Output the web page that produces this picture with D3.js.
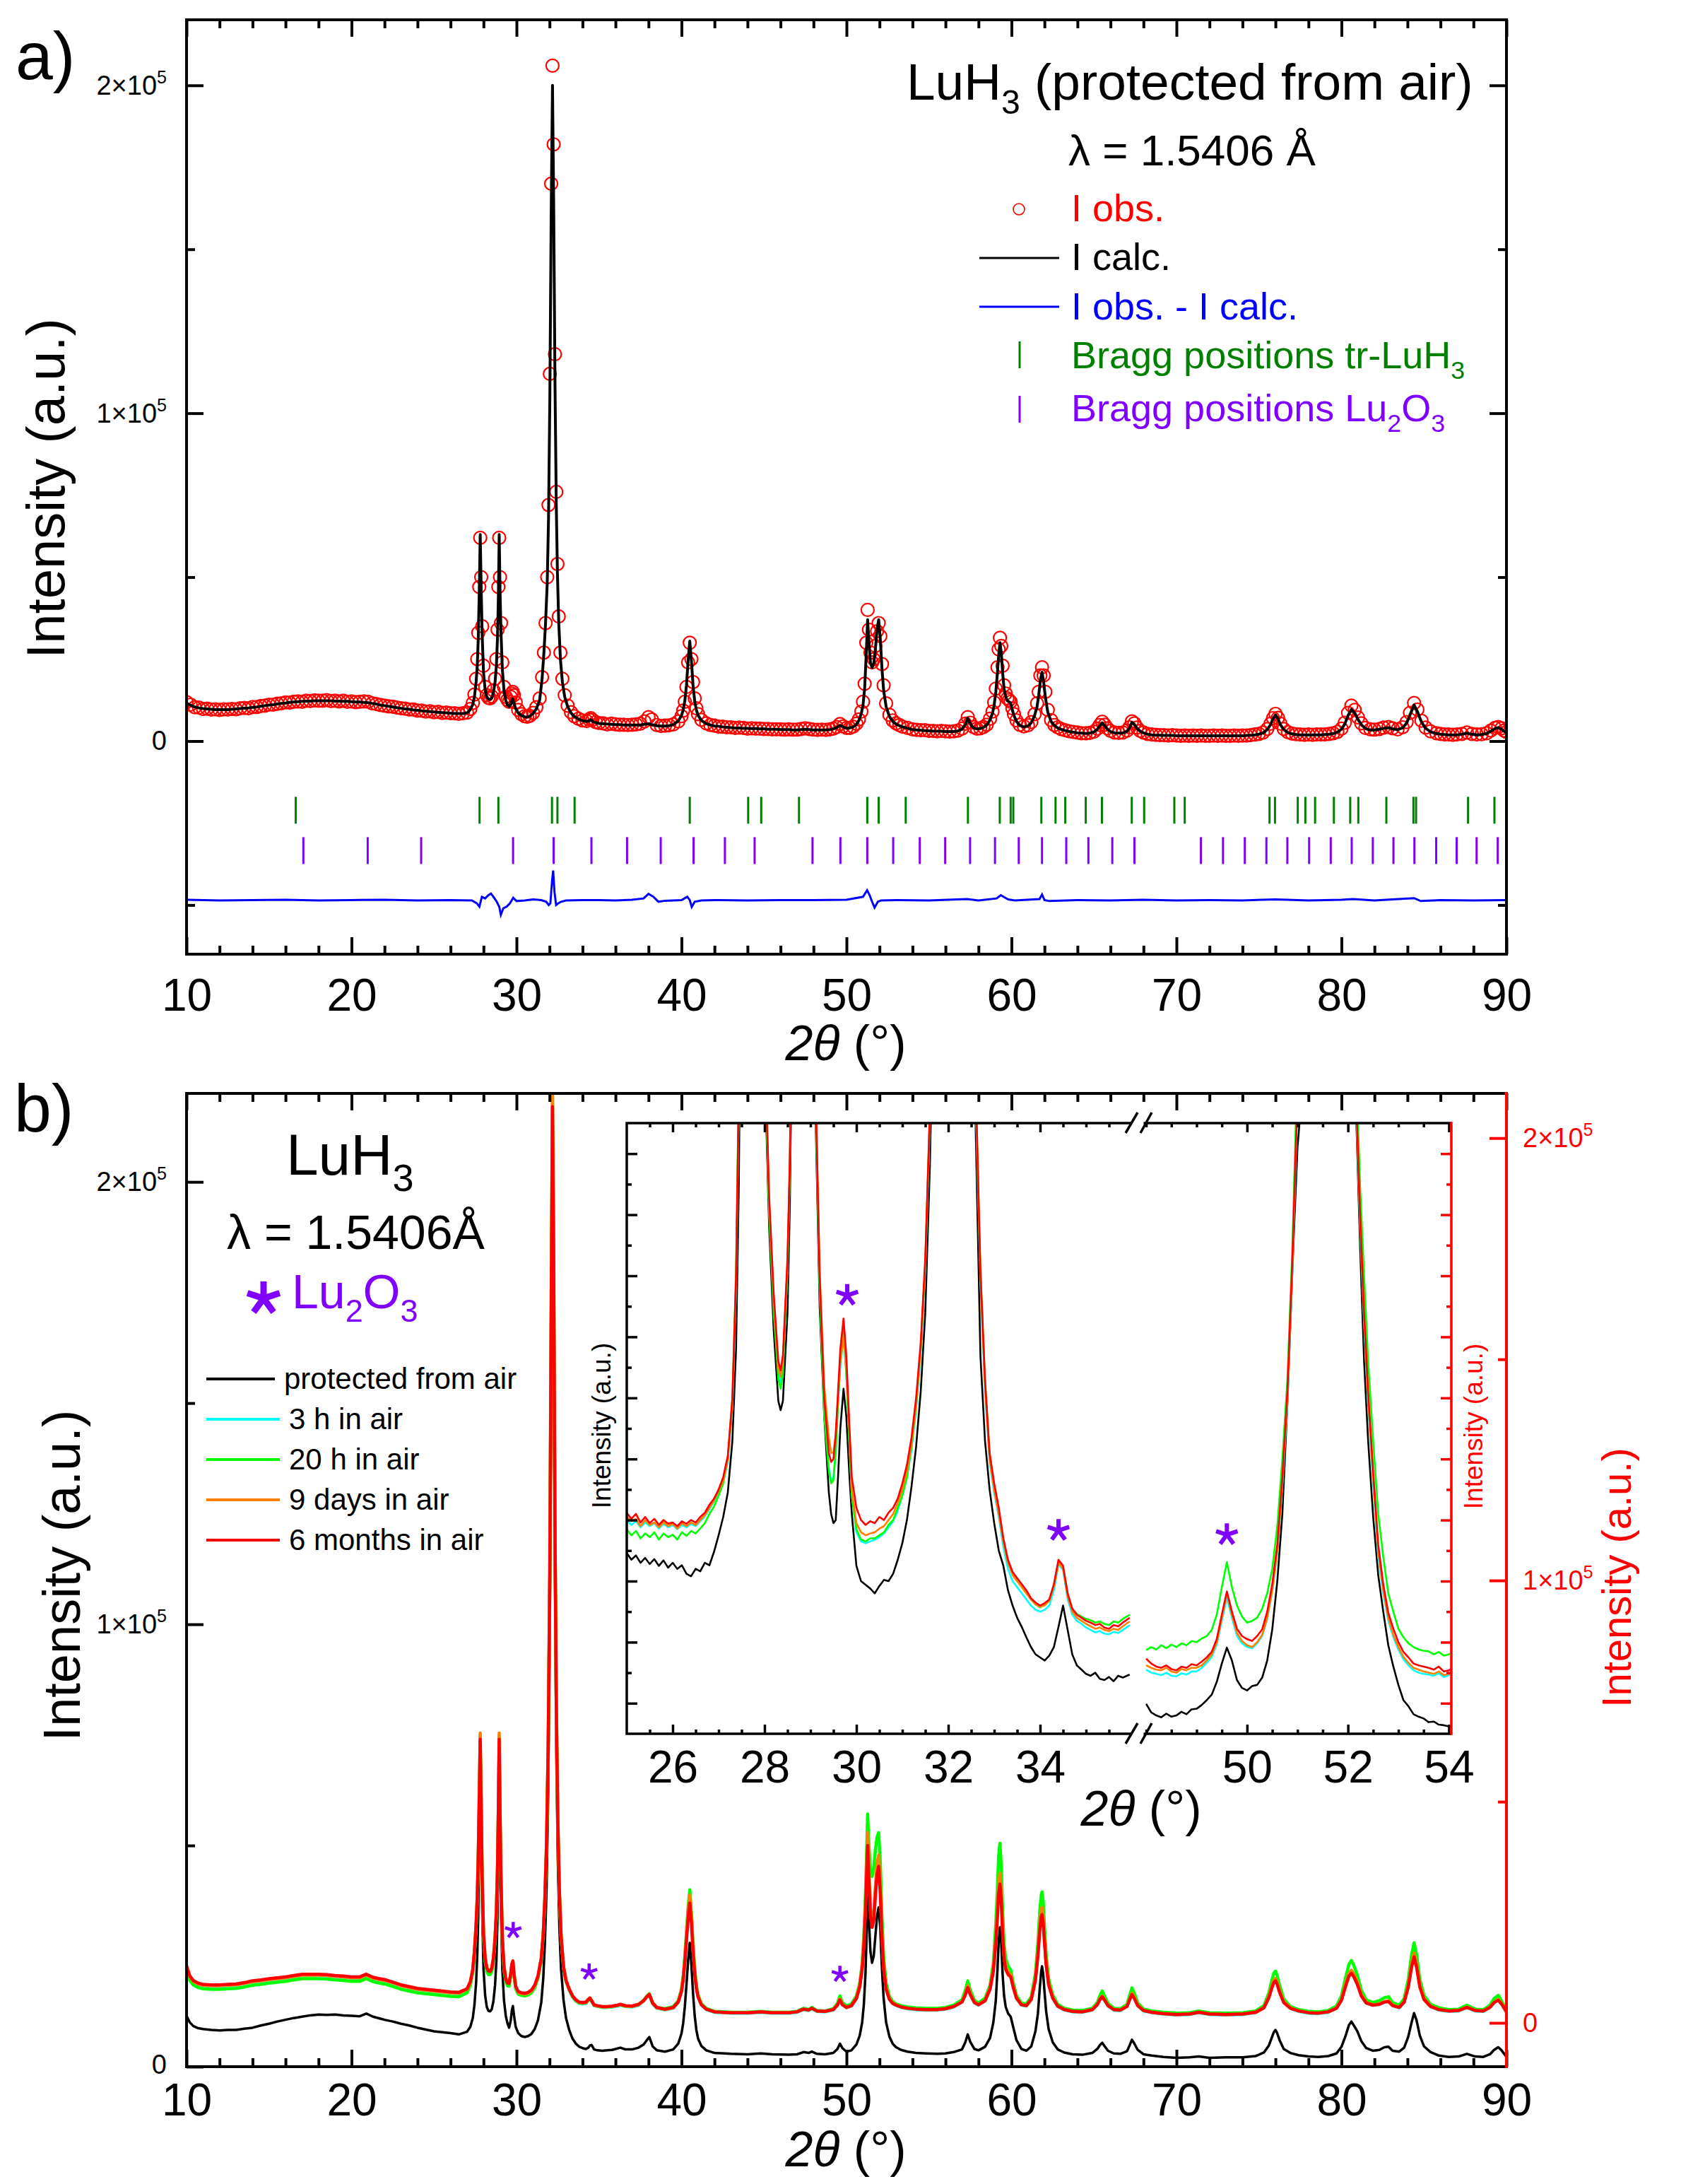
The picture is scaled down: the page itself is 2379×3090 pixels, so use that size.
<!DOCTYPE html>
<html>
<head>
<meta charset="utf-8">
<script src="https://cdn.jsdelivr.net/npm/d3@7"></script>
<style>
  body { margin: 0; background: #fff; }
  text { font-family: "Liberation Sans", Arial, sans-serif; }
</style>
</head>
<body>
<svg></svg>
<script>
// ---------- panel a: Rietveld fit (intensities in units of 10^3 counts) ----------
const thetaA = [
  10,10.25,10.5,10.75,11,11.25,11.5,11.75,12,12.25,
  12.5,12.75,13,13.25,13.5,13.75,14,14.25,14.5,14.75,
  15,15.25,15.5,15.75,16,16.25,16.5,16.75,17,17.25,
  17.5,17.75,18,18.25,18.5,18.75,19,19.25,19.5,19.75,
  20,20.25,20.5,20.75,21,21.25,21.5,21.75,22,22.25,
  22.5,22.75,23,23.25,23.5,23.75,24,24.25,24.5,24.75,
  25,25.25,25.5,25.75,26,26.25,26.5,26.75,27,27.2,
  27.35,27.45,27.55,27.62,27.68,27.74,27.8,27.86,27.92,28,
  28.1,28.2,28.3,28.4,28.5,28.6,28.7,28.78,28.85,28.9,
  28.95,29,29.06,29.14,29.24,29.35,29.45,29.55,29.65,29.72,
  29.77,29.84,29.95,30.1,30.3,30.5,30.65,30.8,31,31.2,
  31.4,31.55,31.66,31.76,31.86,31.94,32.02,32.1,32.18,32.25,
  32.33,32.41,32.48,32.56,32.66,32.78,32.92,33.1,33.3,33.5,
  33.75,34,34.25,34.4,34.5,34.6,34.8,35,35.25,35.5,
  35.75,36,36.25,36.5,36.75,37,37.25,37.5,37.75,38,
  38.2,38.5,38.75,39,39.25,39.5,39.8,40,40.1,40.2,
  40.3,40.4,40.5,40.6,40.7,40.8,40.9,41,41.2,41.5,
  41.75,42,42.25,42.5,42.75,43,43.25,43.5,43.75,44,
  44.25,44.5,44.75,45,45.25,45.5,45.75,46,46.25,46.5,
  46.75,47,47.25,47.5,47.75,48,48.25,48.5,48.75,49,
  49.2,49.4,49.6,49.8,50,50.2,50.4,50.6,50.75,50.9,
  51,51.1,51.2,51.28,51.36,51.45,51.55,51.65,51.75,51.85,
  51.95,52.05,52.15,52.25,52.4,52.6,52.8,53,53.2,53.4,
  53.7,54,54.25,54.5,54.75,55,55.25,55.5,55.75,56,
  56.25,56.5,56.75,57,57.2,57.35,57.5,57.7,57.9,58.1,
  58.3,58.5,58.7,58.85,58.95,59.05,59.15,59.22,59.3,59.38,
  59.46,59.55,59.65,59.75,59.85,59.95,60.05,60.15,60.3,60.5,
  60.75,61,61.2,61.4,61.55,61.65,61.75,61.85,61.95,62.05,
  62.2,62.4,62.6,62.8,63,63.25,63.5,63.75,64,64.25,
  64.5,64.75,65,65.2,65.35,65.5,65.65,65.8,66,66.25,
  66.5,66.75,67,67.15,67.3,67.45,67.6,67.8,68,68.25,
  68.5,68.75,69,69.25,69.5,69.75,70,70.25,70.5,70.75,
  71,71.25,71.5,71.75,72,72.25,72.5,72.75,73,73.25,
  73.5,73.75,74,74.25,74.5,74.75,75,75.25,75.5,75.7,
  75.85,76,76.15,76.3,76.5,76.75,77,77.25,77.5,77.75,
  78,78.25,78.5,78.75,79,79.25,79.5,79.75,80,80.2,
  80.4,80.6,80.8,81,81.2,81.45,81.75,82,82.3,82.55,
  82.85,83.1,83.4,83.7,83.95,84.15,84.4,84.6,84.85,85.1,
  85.4,85.75,86,86.25,86.5,86.75,87,87.3,87.6,87.9,
  88.2,88.5,88.8,89.05,89.3,89.5,89.7,89.85,90
];
const obsA = [
  11.9,11.1,10.3,10.2,9.8,9.9,9.6,9.7,9.5,9.7,
  9.6,9.8,9.7,10,10.1,10,10.4,10.4,10.7,10.8,
  11.1,11.1,11.4,11.5,11.8,11.7,12,12.1,12,12.3,
  12.2,12.4,12.3,12.3,12.5,12.2,12.3,12.1,12.3,12,
  12.1,11.9,12,12.1,12,11.5,11.3,11,10.8,10.6,
  10.5,10.2,10,9.9,9.6,9.6,9.3,9.3,9,9.1,
  8.8,8.9,8.6,8.7,8.5,8.5,8.3,8.5,8.7,9.8,
  11.6,14.2,19,25,33,47,62,50,35,23,
  16.5,14,13.2,13,13.6,15.5,19,25,34,47,
  62,50,36,24,16.5,13.5,12.6,12,13.5,14.5,
  15,14,11.8,9.5,8.2,7.6,7.4,7.7,8.6,10.3,
  13,19.5,27,36,50,72,112,170,206,182,
  118,76,54,38,27,19,14,10.8,8.8,7.6,
  6.8,6.3,6.1,6.6,7,6.5,5.8,5.5,5.4,5.1,
  5.3,5.1,5,5,4.9,5,5.1,5.3,6,7.3,
  6.6,4.9,4.6,4.7,4.8,5.1,6,7.6,9.3,12,
  16.5,24,30,25,18,13,10,8.2,6.5,5.4,
  4.9,4.7,4.4,4.4,4.2,4.2,4,4.1,4,3.8,
  3.9,3.8,3.8,3.7,3.7,3.6,3.6,3.6,3.5,3.6,
  3.5,3.5,3.7,3.9,3.7,3.5,3.4,3.5,3.4,3.6,
  3.8,4.3,5.2,4.5,4,4,4.4,5.3,6.6,9,
  12,17.5,30,40,34,27,24,25,29,33.5,
  36,32,23.5,17,11.5,8,6.3,5.4,4.9,4.4,
  4,3.6,3.4,3.3,3.3,3.1,3.1,3,3.1,3,
  2.9,3,3.2,3.8,5.3,7.3,5.6,4.3,3.8,3.9,
  4.3,5,6.8,9,11.8,16,22.5,28,31.5,29,
  23,17,14.5,13,12.5,12,10,8.2,6.3,5,
  4.5,4.8,5.8,8.2,11.5,15,20,22.5,20,15,
  9.5,6.4,4.9,4.2,3.7,3.3,3,2.8,2.6,2.4,
  2.4,2.5,2.9,3.8,4.9,5.9,5,3.9,3.1,2.6,
  2.5,2.6,3.2,4.2,6,5.4,4.1,3.1,2.6,2.2,
  2,1.9,1.8,1.8,1.7,1.8,1.7,1.6,1.7,1.6,
  1.7,1.6,1.7,1.6,1.6,1.7,1.6,1.7,1.6,1.6,
  1.7,1.6,1.7,1.7,1.8,2,2.2,2.6,3.7,5.3,
  7,8.3,7.1,5.3,3.7,2.7,2.3,2.1,2,1.9,
  2,1.9,2,2,2,2.2,2.4,2.8,3.8,5.6,
  8.6,10.8,9.5,7.2,5.4,4,3.6,3.5,3.7,4.1,
  4.3,3.9,3.6,4.2,5.8,8.6,11.6,9.6,6.2,4.1,
  3,2.4,2.2,2,2,1.9,2,2.2,2.6,2.2,
  2,2.1,2.4,3.2,4,4.3,3.9,3.2,2.8
];
const calcA = [
  11.6,10.9,10.4,10.1,9.9,9.8,9.7,9.6,9.6,9.6,
  9.6,9.7,9.8,9.9,10,10.1,10.3,10.4,10.6,10.8,
  11,11.1,11.3,11.5,11.6,11.8,11.9,12,12.1,12.2,
  12.2,12.3,12.3,12.3,12.3,12.3,12.2,12.2,12.1,12.1,
  12,11.9,11.9,11.8,11.7,11.5,11.3,11,10.8,10.6,
  10.4,10.2,10,9.8,9.7,9.5,9.4,9.2,9.1,9,
  8.9,8.8,8.7,8.6,8.5,8.4,8.4,8.4,8.6,9.6,
  11.2,13.5,18,23,31,45,63,46,32,21,
  15.5,13.5,12.8,12.7,13.2,14.8,18,23,32,44,
  63,46,33,22,15.5,12.3,11,10.5,11.2,12.4,
  12.8,11.6,9.9,8.6,7.8,7.4,7.3,7.6,8.4,9.8,
  12.5,19,27,36,48,68,105,160,200,165,
  110,72,51,36,25,18,13.5,10.5,8.6,7.5,
  6.7,6.2,6,6.2,6.5,6,5.6,5.4,5.3,5.2,
  5.1,5,5,4.9,4.9,4.9,4.9,4.9,5.1,5.3,
  5,4.7,4.6,4.6,4.7,5,6.1,7.8,9.5,12.2,
  17,24.5,30.5,24.5,17,12.2,9.5,7.9,6.3,5.3,
  4.9,4.6,4.5,4.3,4.2,4.1,4,4,3.9,3.9,
  3.8,3.8,3.7,3.7,3.6,3.6,3.6,3.5,3.5,3.5,
  3.4,3.4,3.5,3.6,3.5,3.4,3.4,3.4,3.4,3.5,
  3.7,4.1,4.8,4.3,3.9,4,4.3,5.1,6.3,8.5,
  11,16,27,37,30,24,22.4,23.5,28,34,
  37,31,22,15.5,10.5,7.5,6,5.2,4.7,4.3,
  3.9,3.5,3.4,3.3,3.2,3.1,3,3,3,2.9,
  2.9,2.9,3.1,3.6,5,7,5.2,4,3.7,3.8,
  4.2,4.9,6.5,8.5,11,15,21,26,30,27,
  21,16,13.5,12.3,12,11.5,9.5,7.8,6,4.8,
  4.3,4.6,5.6,7.8,10.5,14,18.5,21,18,13.5,
  8.8,6,4.7,4,3.6,3.2,2.9,2.7,2.5,2.4,
  2.3,2.4,2.8,3.6,4.6,5.6,4.7,3.7,2.9,2.5,
  2.4,2.5,3,4,5.7,5,3.9,3,2.5,2.1,
  1.9,1.8,1.8,1.7,1.7,1.7,1.6,1.6,1.6,1.6,
  1.6,1.6,1.6,1.6,1.6,1.6,1.6,1.6,1.6,1.6,
  1.6,1.6,1.6,1.7,1.8,1.9,2.1,2.5,3.5,5,
  6.8,8,6.8,5,3.5,2.6,2.2,2,1.9,1.9,
  1.9,1.9,1.9,1.9,2,2.1,2.3,2.7,3.6,5.2,
  7.8,9.6,8.6,6.6,5,3.8,3.4,3.4,3.6,3.9,
  4.1,3.7,3.5,4,5.5,8,11,9,5.8,3.9,
  2.8,2.3,2.1,2,1.9,1.9,1.9,2.1,2.4,2.1,
  1.9,2,2.3,3,3.8,4.1,3.6,3,2.6
];
// difference curve, drawn with its own offset below zero
const thetaDiff = [
  10,12,14,16,18,20,22,24,26,27.3,
  27.6,27.75,27.9,28.1,28.3,28.45,28.6,28.8,28.95,29.05,
  29.2,29.4,29.6,29.8,30,30.5,31,31.5,31.8,31.95,
  32.05,32.15,32.22,32.3,32.4,32.5,32.7,33,34,35,
  36,37,37.7,38,38.3,38.6,39,40,40.35,40.5,
  40.62,40.8,41.2,42,44,46,48,50,51,51.25,
  51.4,51.55,51.7,51.9,52.1,53,55,57.3,58,59.1,
  59.35,59.55,59.8,60.2,61.7,61.85,62,62.3,64,66,
  68,70,72,74,76,78,80,80.7,82,84.4,
  84.8,86,88,90
];
const diffA = [
  -48.4,-48.6,-48.5,-48.4,-48.6,-48.5,-48.4,-48.6,-48.5,-48.6,
  -49.5,-50.5,-47.5,-48,-47,-46.5,-47.5,-49,-50.5,-53,
  -51,-50.5,-49.5,-47.8,-48.8,-48.6,-48.3,-48.5,-49,-50,
  -49.5,-43,-39.5,-46,-50,-49.6,-49,-48.6,-48.5,-48.5,
  -48.6,-48.4,-48,-46.6,-47.5,-49,-48.7,-48.5,-47.5,-48.5,
  -50.6,-49,-48.6,-48.5,-48.6,-48.5,-48.5,-48.4,-47.5,-45.5,
  -47,-49,-50.8,-49,-48.6,-48.5,-48.6,-48.2,-48.6,-48,
  -47,-47.6,-48.3,-48.6,-48.2,-46.8,-48.5,-48.8,-48.5,-48.6,
  -48.4,-48.6,-48.5,-48.6,-48.3,-48.6,-48.4,-48.2,-48.6,-47.9,
  -48.8,-48.5,-48.6,-48.5
];
const braggLuH3 = [16.62,27.76,28.9,32.15,32.48,33.52,40.5,44.04,44.83,47.12,
  51.26,51.95,53.59,57.36,59.29,59.95,60.11,61.81,62.67,63.26,64.5,65.48,67.29,68.04,
  69.87,70.5,75.64,75.97,77.35,77.81,78.4,79.54,80.53,81.02,82.72,84.36,84.52,87.67,89.27];
const braggLu2O3 = [17.08,20.98,24.22,29.79,32.25,34.54,36.7,38.74,40.73,42.63,44.43,47.94,
  49.63,51.26,52.83,54.44,55.98,57.49,59.0,60.44,61.85,63.32,64.66,66.11,67.45,71.48,72.82,
  74.14,75.45,76.72,78.04,79.35,80.62,81.9,83.15,84.42,85.74,86.98,88.19,89.47];

// ---------- panel b: ageing in air ----------
const thetaB = [
  10,10.2,10.4,10.7,11,11.5,12,12.5,13,13.5,
  14,14.5,15,15.5,16,16.5,17,17.5,18,18.5,
  19,19.5,20,20.5,20.9,21.3,21.7,22,22.5,23,
  23.5,24,24.5,25,25.5,26,26.5,27,27.2,27.35,
  27.45,27.55,27.62,27.68,27.74,27.8,27.86,27.92,28,28.1,
  28.2,28.3,28.4,28.5,28.6,28.7,28.78,28.85,28.9,28.95,
  29,29.06,29.14,29.24,29.35,29.45,29.55,29.65,29.72,29.78,
  29.85,29.95,30.1,30.3,30.5,30.7,30.9,31.1,31.3,31.5,
  31.62,31.72,31.82,31.92,32.02,32.1,32.18,32.25,32.33,32.41,
  32.5,32.6,32.7,32.85,33,33.2,33.4,33.6,33.8,34,
  34.2,34.35,34.45,34.55,34.7,34.9,35.2,35.5,35.8,36.1,
  36.3,36.6,37,37.4,37.7,37.9,38.05,38.25,38.5,39,
  39.5,39.8,40,40.1,40.2,40.3,40.4,40.5,40.6,40.7,
  40.8,40.9,41,41.2,41.5,42,43,44,44.8,45.5,
  46.5,47,47.4,47.7,47.9,48.2,48.7,49.2,49.45,49.6,
  49.75,50,50.3,50.6,50.8,50.95,51.05,51.15,51.22,51.28,
  51.36,51.45,51.55,51.65,51.75,51.85,51.95,52.05,52.15,52.25,
  52.4,52.6,52.8,53,53.3,53.7,54.2,54.8,55.5,56,
  56.5,57,57.2,57.35,57.5,57.75,58,58.4,58.7,58.9,
  59.05,59.15,59.22,59.3,59.38,59.46,59.55,59.65,59.8,59.95,
  60.1,60.3,60.6,60.9,61.2,61.45,61.6,61.72,61.8,61.85,
  61.92,62,62.1,62.25,62.5,62.8,63.2,63.7,64.3,64.9,
  65.2,65.38,65.5,65.65,65.85,66.2,66.6,67,67.18,67.3,
  67.45,67.65,68,68.5,69.2,70,70.8,71.35,72,73,
  74,74.8,75.3,75.6,75.8,75.9,76,76.1,76.25,76.5,
  76.9,77.4,78,78.6,79.2,79.7,80,80.25,80.45,80.6,
  80.75,80.95,81.2,81.5,81.9,82.3,82.6,82.85,83.1,83.5,
  83.8,84.05,84.25,84.4,84.55,84.75,85,85.4,85.9,86.5,
  87.1,87.6,88.1,88.6,89,89.25,89.5,89.7,90
];
// left (black) axis
const protectedB = [
  11.5,10,9.2,8.7,8.5,8.3,8.2,8.3,8.3,8.6,
  8.8,9.3,9.7,10.2,10.6,11,11.3,11.6,11.8,11.7,
  11.8,11.6,11.5,11.4,12,11.3,10.9,10.6,10.2,9.7,
  9.3,8.8,8.4,8,7.8,7.6,7.3,7.9,9,11,
  14,19,25,34,50,70,52,35,22,16,
  13.5,12.6,12.5,13,14.8,18.5,24,34,48,69,
  50,35,22,15,11.5,9.8,8.8,10.5,12.8,13.7,
  11.5,9,7.6,6.9,6.7,6.9,7.4,8.5,10.5,14.5,
  20,28,40,62,100,155,206,170,112,72,
  47,31,22,15,11,8.2,6.3,5.2,4.5,4.2,
  4,4.3,4.8,4.9,3.9,3.7,3.6,3.7,3.8,4.1,
  4.3,3.9,3.9,4.3,5,6,6.7,4.6,3.7,3.4,
  3.9,5.2,7.5,9.8,13.5,18.5,24,28,23,16.5,
  11.5,8.3,6.4,4.7,3.7,3.1,2.9,2.8,3,2.8,
  2.7,2.8,3.3,3.1,3.4,2.9,2.8,3.1,4,5.2,
  4.2,3.4,3.7,5,7,10,14,21,30,40,
  33,26,23.5,25,29.5,34,36,31,22,15.5,
  10,6.8,5.2,4.4,3.8,3.4,3.1,3,2.9,3,
  3.3,3.9,5.5,7.3,5.6,4,3.7,4.5,6.5,10,
  15,22,28,31.5,28,21,16,13.5,12,11.3,
  9,6,4,3.6,4.6,8,12,18,21.5,22.7,
  21,17,12.5,8.5,5.5,3.9,3.2,2.8,2.7,3.1,
  4,5,5.4,4.6,3.6,3,2.9,3.5,5,6.1,
  5.2,3.8,2.8,2.5,2.2,2,2.1,2.3,2,2.1,
  2.1,2.4,3.2,4.8,6.8,7.8,8.3,7.6,6,4,
  3.1,2.6,2.3,2.2,2.4,3,4.5,7,9.4,10.2,
  9.3,8.1,5.8,4.2,3.6,3.8,4.4,4.5,3.6,3.4,
  4.3,6.8,10,12.1,10.5,7,4.6,3.3,2.5,2.2,
  2.3,2.9,2.3,2.2,2.8,3.8,4.4,3.7,2.2
];
// right (red) axis
const air3hB = [
  12.5,10.3,9.3,8.7,8.4,8.3,8.3,8.4,8.5,8.8,
  9.2,9.4,9.7,9.9,10.1,10.4,10.7,10.7,10.7,10.6,
  10.4,10.3,10.1,10.1,10.7,10,9.7,9.5,8.9,8.3,
  7.9,7.5,7.3,7.1,6.9,6.7,6.6,7.5,9,11.8,
  15.9,22,28.2,37.4,50.8,64.8,48.6,32.3,20.1,14.4,
  12.2,11.5,11.4,12.1,14.4,19,25.2,35.4,48.7,64.8,
  47.6,32.3,19,12.4,9.8,8.9,8.8,11,13.1,13.7,
  10.8,7.9,6.7,6.4,6.3,6.5,7,8.1,10.3,14.4,
  20.1,28.3,40.6,63,104,161,211,175,114,73,
  46.8,29.5,19.6,12.5,9.4,7.3,5.8,4.9,4.4,4.3,
  4.4,5.1,5.5,4.9,3.9,3.7,3.5,3.5,3.6,3.8,
  4,3.7,3.6,4,4.9,5.9,6.4,4.3,3.3,2.9,
  3.3,4.7,7.2,9.9,14.2,19.5,24.9,28.6,23.8,16.8,
  11.5,8,6,4.1,3,2.4,2.2,2.2,2.4,2.2,
  2.2,2.4,3,2.8,3.2,2.6,2.5,2.9,4,5.3,
  4.1,3.4,3.8,5.6,8.4,12.7,18.1,26.6,35.1,42.5,
  34,25.5,22.9,24.5,30.2,35.6,37.5,30.8,20.1,12.7,
  7.8,5.4,4.4,4,3.5,3.2,3,2.9,2.9,3.1,
  3.6,4.7,6.4,8.3,6.5,4.6,4,5,7.9,12.2,
  19.1,25.5,30.8,33.4,29.3,21.3,15.2,12.5,11.3,10.8,
  8.3,5.6,4,3.8,5.3,10,15.8,22.3,25.2,25.9,
  23.9,19,13.7,8.9,5.7,3.7,2.9,2.5,2.4,2.9,
  4.1,5.5,6,5.1,3.8,2.9,2.8,3.7,5.5,6.6,
  5.6,3.9,2.7,2.3,2,1.8,1.9,2.3,1.9,1.8,
  1.9,2.3,3.4,5.9,8.4,9.5,9.9,9.1,7.1,4.7,
  3.3,2.6,2.2,2.1,2.4,3.3,5.2,8.7,11.1,11.8,
  10.9,9.2,6.3,4.5,4,4.2,4.7,4.9,3.9,3.4,
  4.7,8.4,13.2,15.6,13.2,8.4,5.4,3.7,2.9,2.6,
  2.7,3.5,2.7,2.6,3.5,4.6,5.2,4.3,2.4
];
const air20hB = [
  11.8,9.6,8.6,8,7.7,7.6,7.6,7.7,7.8,8.1,
  8.5,8.7,9,9.2,9.4,9.7,10,10,10,9.9,
  9.7,9.6,9.4,9.4,10,9.3,9,8.8,8.2,7.6,
  7.2,6.8,6.6,6.4,6.2,6,5.9,6.8,8.5,11.5,
  15.5,21.5,27.5,36,48.5,62,46.5,31,19.3,13.8,
  11.6,10.9,10.9,11.6,13.9,18.4,24.2,34,46.5,62,
  45.5,31,18.3,11.9,9.3,8.4,8.3,10.5,12.7,13.3,
  10.5,7.7,6.5,6.2,6.1,6.3,6.8,7.9,10.1,14.1,
  19.6,27.6,39.5,61,100,155,204,170,110,71,
  45.5,28.8,19.4,12.4,9.4,7.4,5.9,5,4.5,4.4,
  4.5,5.1,5.6,5,4,3.8,3.6,3.6,3.7,3.9,
  4.1,3.8,3.7,4.2,5.1,6.1,6.6,4.6,3.5,3.2,
  3.7,5,7.7,10.5,15,20.6,26.2,30.1,25.1,17.9,
  12.3,8.6,6.4,4.4,3.3,2.6,2.4,2.4,2.6,2.4,
  2.4,2.6,3.3,3,3.5,2.8,2.7,3.2,4.4,6.1,
  4.6,3.8,4.3,6.1,8.9,13.5,19.5,29,38.5,47.2,
  40,34.5,33.1,35,39,42,43,36,24,15,
  9,6,4.8,4.3,3.9,3.6,3.4,3.3,3.3,3.5,
  4,5.2,7.3,9.5,7.4,5.1,4.5,5.6,8.5,13.5,
  22.5,30.5,37.5,40.6,35.5,25.5,18,14.5,12.8,12,
  9.2,6.2,4.5,4.3,5.9,11.2,18,25.5,28.8,29.6,
  27.5,21.8,15.5,10,6.3,4.2,3.3,2.9,2.8,3.3,
  4.6,6.3,7.2,6,4.4,3.3,3.2,4.2,6.4,7.9,
  6.7,4.5,3.1,2.7,2.4,2.2,2.3,2.7,2.3,2.2,
  2.3,2.7,3.9,6.8,9.9,11.2,11.7,10.7,8.4,5.4,
  3.7,3,2.6,2.5,2.8,3.8,6.1,10.2,13.2,14.1,
  13,10.9,7.4,5.2,4.6,5,5.7,5.9,4.6,4,
  5.5,9.8,15.4,18.1,15.4,9.8,6.2,4.2,3.4,3,
  3.1,4,3.1,3,4,5.5,6.2,5,2.8
];
const air9dB = [
  12.6,10.4,9.4,8.8,8.5,8.4,8.4,8.5,8.6,8.9,
  9.3,9.5,9.8,10,10.2,10.5,10.8,10.8,10.8,10.7,
  10.5,10.4,10.2,10.2,10.8,10.1,9.8,9.6,9,8.4,
  8,7.6,7.4,7.2,7,6.8,6.7,7.6,9.2,12,
  16.2,22.4,28.6,38,51.5,65.5,49.3,32.8,20.4,14.7,
  12.5,11.8,11.8,12.5,14.8,19.4,25.6,35.9,49.3,65.5,
  48.2,32.8,19.4,12.8,10.2,9.4,9.2,11.3,13.3,13.9,
  11,8.2,6.9,6.6,6.5,6.7,7.2,8.3,10.5,14.6,
  20.3,28.6,41,63.8,105,163,213,177,115,74,
  47.3,29.8,19.9,12.7,9.6,7.5,6,5.1,4.6,4.5,
  4.6,5.3,5.6,5,4,3.8,3.6,3.6,3.7,3.9,
  4.1,3.8,3.7,4.1,5,6,6.5,4.4,3.4,3,
  3.4,4.8,7.3,10,14.3,19.7,25.1,28.9,24,17,
  11.6,8.1,6.1,4.2,3.1,2.5,2.3,2.3,2.5,2.3,
  2.3,2.5,3.1,2.9,3.3,2.7,2.6,3,4.1,5.4,
  4.2,3.5,3.9,5.7,8.5,12.8,18.3,26.9,35.5,43,
  34.4,25.8,23.1,24.7,30.6,36,37.9,31.1,20.3,12.8,
  7.9,5.5,4.5,4.1,3.6,3.3,3.1,3,3,3.2,
  3.7,4.8,6.5,8.4,6.6,4.7,4.1,5.1,8,12.3,
  19.3,25.8,31.2,33.8,29.6,21.5,15.4,12.7,11.4,10.9,
  8.4,5.7,4.1,3.9,5.4,10.1,16,22.5,25.4,26.1,
  24.1,19.2,13.8,9,5.8,3.8,3,2.6,2.5,3,
  4.2,5.6,6.1,5.2,3.9,3,2.9,3.8,5.6,6.7,
  5.7,4,2.8,2.4,2.1,1.9,2,2.4,2,1.9,
  2,2.4,3.5,6,8.5,9.6,10,9.2,7.2,4.8,
  3.4,2.7,2.3,2.2,2.5,3.4,5.3,8.8,11.2,11.9,
  11,9.3,6.4,4.6,4.1,4.3,4.8,5,4,3.5,
  4.8,8.5,13.3,15.8,13.3,8.5,5.5,3.8,3,2.7,
  2.8,3.6,2.8,2.7,3.6,4.7,5.3,4.4,2.5
];
const air6mB = [
  12.9,10.6,9.6,9,8.7,8.6,8.6,8.7,8.8,9.1,
  9.5,9.7,10,10.2,10.4,10.7,11,11,11,10.9,
  10.7,10.6,10.4,10.4,11,10.3,10,9.8,9.2,8.6,
  8.2,7.8,7.6,7.4,7.2,7,6.9,7.7,9.3,12.1,
  16.1,22.1,28.1,37.1,50.1,64.1,48.1,32.1,20.1,14.6,
  12.4,11.7,11.6,12.3,14.6,19.1,25.1,35.1,48.1,64.1,
  47.1,32.1,19.1,12.6,9.9,9,8.9,11.1,13.3,14,
  11.1,8.3,7.1,6.8,6.7,6.9,7.4,8.5,10.6,14.6,
  20.1,28.1,40.1,62.1,102.1,158.1,207.1,172.1,112.1,72.1,
  46.1,29.1,19.6,12.6,9.6,7.6,6.1,5.2,4.7,4.6,
  4.7,5.3,5.6,5,4.1,3.9,3.7,3.7,3.8,4,
  4.2,3.9,3.8,4.2,5,5.9,6.4,4.5,3.5,3.1,
  3.5,4.7,7.1,9.6,13.6,18.6,23.6,27.1,22.6,16.1,
  11.1,7.8,5.9,4.1,3.1,2.5,2.3,2.3,2.5,2.3,
  2.3,2.5,3.1,2.9,3.3,2.7,2.6,3,4,5.2,
  4.1,3.5,3.9,5.5,8.1,12.1,17.1,25.1,33.1,40.1,
  32.1,24.1,21.6,23.1,28.6,33.6,35.4,29.1,19.1,12.1,
  7.6,5.3,4.4,4,3.6,3.3,3.1,3,3,3.2,
  3.7,4.7,6.3,8,6.4,4.6,4.1,5,7.6,11.6,
  18.1,24.1,29.1,31.4,27.6,20.1,14.6,12.1,10.9,10.4,
  8.1,5.6,4.1,3.9,5.3,9.6,15.1,21.1,23.9,24.5,
  22.6,18.1,13.1,8.6,5.6,3.8,3,2.6,2.5,3,
  4.1,5.4,5.9,5.1,3.9,3,2.9,3.7,5.4,6.4,
  5.5,3.9,2.8,2.4,2.1,1.9,2,2.4,2,1.9,
  2,2.4,3.4,5.7,8.1,9.1,9.5,8.7,6.9,4.6,
  3.3,2.7,2.3,2.2,2.5,3.3,5.1,8.3,10.6,11.2,
  10.4,8.8,6.1,4.5,4,4.2,4.7,4.8,3.9,3.5,
  4.7,8.1,12.6,14.9,12.6,8.1,5.3,3.7,3,2.7,
  2.8,3.5,2.8,2.7,3.5,4.6,5.1,4.3,2.5
];
const seriesNames = ['protected from air', '3 h in air', '20 h in air', '9 days in air', '6 months in air'];

// ---------- inset (arbitrary units) ----------
const thetaInL = [
  25,25.1,25.2,25.3,25.4,25.5,25.6,25.7,25.8,25.9,
  26,26.1,26.2,26.3,26.4,26.5,26.6,26.7,26.8,26.9,
  27,27.1,27.2,27.3,27.38,27.44,27.5,27.8,28,28.1,
  28.2,28.3,28.35,28.4,28.5,28.55,28.6,28.95,29.1,29.2,
  29.3,29.4,29.45,29.5,29.55,29.6,29.65,29.72,29.78,29.85,
  29.9,30,30.1,30.2,30.3,30.4,30.5,30.6,30.7,30.8,
  30.9,31,31.1,31.2,31.3,31.4,31.5,31.6,31.7,32.2,
  32.55,32.6,32.7,32.8,32.9,33,33.1,33.2,33.3,33.4,
  33.5,33.6,33.7,33.8,33.9,34,34.1,34.2,34.3,34.4,
  34.5,34.6,34.7,34.8,34.9,35,35.1,35.2,35.3,35.4,
  35.5,35.6,35.7,35.8,35.95
];
const insetProtL = [
  2.96,2.85,2.92,2.8,2.88,2.78,2.86,2.75,2.84,2.72,
  2.8,2.7,2.76,2.62,2.58,2.7,2.66,2.8,2.76,2.98,
  3.25,3.55,3.95,4.8,6.3,9,14,60,11,8.3,
  6.6,5.45,5.3,5.45,6.9,8.6,11.5,60,10.5,7,
  5.2,3.95,3.6,3.45,3.5,4.2,5,5.65,5.2,4.2,
  3.6,2.75,2.5,2.44,2.38,2.3,2.42,2.52,2.5,2.62,
  2.85,3.12,3.5,4.05,4.7,5.6,6.9,9.3,13,200,
  12,9.8,6.2,4.8,4,3.45,3,2.75,2.35,2.1,
  1.9,1.75,1.58,1.42,1.3,1.25,1.2,1.28,1.42,1.75,
  2.1,1.7,1.3,1.12,1.05,0.98,0.95,1,0.9,0.88,
  0.93,0.86,0.95,0.92,0.97
];
const inset3hL = [
  3.5,3.42,3.48,3.38,3.46,3.4,3.45,3.36,3.44,3.38,
  3.42,3.35,3.42,3.38,3.44,3.4,3.48,3.56,3.68,3.8,
  3.95,4.12,4.45,5.35,7.3,10.3,15.5,63,11.3,8.6,
  7,5.9,5.75,6,7.6,9.2,11.8,63,10.8,7.3,
  5.3,4.35,4.15,4.2,4.65,5.4,6,6.5,5.9,4.75,
  3.9,3.3,3.15,3.12,3.15,3.18,3.22,3.28,3.38,3.48,
  3.65,3.9,4.2,4.65,5.3,6.2,7.6,10,14,206,
  12.3,10.3,7.4,5.6,4.45,3.95,3.55,3.05,2.7,2.5,
  2.4,2.3,2.2,2.1,2.03,2,2.03,2.1,2.35,2.78,
  2.68,2.2,1.95,1.85,1.8,1.74,1.7,1.66,1.68,1.64,
  1.63,1.67,1.65,1.7,1.78
];
const inset20hL = [
  3.35,3.25,3.32,3.2,3.28,3.22,3.3,3.18,3.28,3.22,
  3.26,3.18,3.3,3.24,3.32,3.28,3.36,3.45,3.6,3.72,
  3.9,4.1,4.5,5.5,7.6,10.8,16.5,63,11.3,8.5,
  6.9,5.8,5.65,5.9,7.6,9.3,12,63,10.8,7.3,
  5.2,4.3,4.1,4.15,4.6,5.4,6.1,6.6,5.9,4.7,
  3.9,3.35,3.18,3.15,3.2,3.2,3.25,3.3,3.42,3.5,
  3.7,3.9,4.2,4.7,5.35,6.3,7.7,10.2,14,206,
  12.4,10.5,7.6,5.8,4.6,4.05,3.65,3.15,2.8,2.62,
  2.5,2.42,2.3,2.2,2.12,2.07,2.12,2.18,2.42,2.82,
  2.74,2.28,2.04,1.96,1.92,1.88,1.86,1.82,1.84,1.8,
  1.78,1.84,1.82,1.88,1.95
];
const inset9dL = [
  3.55,3.48,3.52,3.4,3.5,3.42,3.46,3.38,3.46,3.4,
  3.44,3.36,3.45,3.4,3.46,3.42,3.5,3.58,3.7,3.82,
  3.98,4.15,4.5,5.4,7.4,10.4,16,64,11.4,8.7,
  7.1,6,5.85,6.1,7.7,9.3,11.9,64,10.9,7.6,
  5.7,4.85,4.6,4.6,4.9,5.5,6.1,6.5,6,4.9,
  4,3.45,3.3,3.25,3.28,3.3,3.36,3.4,3.5,3.6,
  3.78,4,4.3,4.75,5.4,6.3,7.7,10.1,14,208,
  12.4,10.4,7.5,5.7,4.5,4,3.6,3.15,2.8,2.6,
  2.5,2.4,2.3,2.2,2.12,2.08,2.1,2.18,2.42,2.8,
  2.7,2.25,2,1.9,1.85,1.8,1.76,1.72,1.74,1.7,
  1.68,1.72,1.7,1.76,1.84
];
const inset6mL = [
  3.62,3.52,3.6,3.46,3.55,3.45,3.52,3.42,3.5,3.44,
  3.46,3.4,3.48,3.44,3.5,3.46,3.55,3.62,3.75,3.85,
  4,4.2,4.55,5.5,7.5,10.5,16,65,11.5,8.8,
  7.2,6.1,5.95,6.2,7.8,9.4,12,65,11,7.5,
  5.5,4.6,4.45,4.5,4.9,5.6,6.3,6.8,6.2,5,
  4.2,3.7,3.5,3.42,3.48,3.45,3.55,3.5,3.62,3.7,
  3.85,4.1,4.4,4.85,5.5,6.4,7.8,10.2,14,210,
  12.5,10.6,7.6,5.8,4.6,4.1,3.7,3.2,2.85,2.65,
  2.55,2.45,2.35,2.22,2.15,2.1,2.14,2.2,2.45,2.85,
  2.75,2.3,2.05,1.95,1.9,1.85,1.82,1.78,1.8,1.74,
  1.72,1.78,1.76,1.82,1.9
];
const thetaInR = [
  48,48.1,48.2,48.3,48.4,48.5,48.6,48.7,48.8,48.9,
  49,49.1,49.2,49.3,49.4,49.5,49.6,49.7,49.8,49.9,
  50,50.1,50.2,50.3,50.4,50.5,50.6,50.7,50.8,50.9,
  51,51.06,51.28,51.6,51.95,52.16,52.24,52.32,52.4,52.5,
  52.6,52.7,52.8,52.9,53,53.1,53.2,53.3,53.4,53.5,
  53.6,53.7,53.8,53.9,54,54.05
];
const insetProtR = [
  0.49,0.35,0.3,0.27,0.33,0.28,0.3,0.36,0.32,0.4,
  0.41,0.47,0.55,0.64,0.85,1.15,1.41,1.2,0.88,0.75,
  0.71,0.78,0.8,0.92,1.2,1.71,2.5,3.6,5.4,7.6,
  9.6,10.2,60,30,60,10.2,8,6.1,4.8,3.55,
  2.6,2,1.45,1.1,0.8,0.55,0.45,0.32,0.28,0.25,
  0.19,0.2,0.15,0.14,0.12,0.13
];
const inset3hR = [
  1.05,1,0.98,0.96,1,0.95,0.94,0.99,0.97,1.02,
  1.02,1.08,1.16,1.26,1.46,1.85,2.22,1.9,1.6,1.48,
  1.42,1.4,1.48,1.6,1.88,2.32,2.95,4.05,5.4,7.6,
  10.3,12.6,63,33,63,10.3,8.3,6.7,5.4,4.1,
  2.9,2.3,1.85,1.58,1.38,1.22,1.12,1.04,1,0.98,
  0.97,0.95,0.99,0.93,0.96,0.97
];
const inset20hR = [
  1.37,1.42,1.38,1.45,1.4,1.46,1.42,1.48,1.45,1.52,
  1.5,1.56,1.6,1.7,1.95,2.4,2.81,2.4,2.1,1.92,
  1.82,1.85,1.9,2.05,2.3,2.7,3.4,4.5,5.8,8,
  11,13.5,66,42,66,11,9,7.5,6.1,4.8,
  3.6,2.9,2.3,2,1.72,1.58,1.48,1.42,1.38,1.36,
  1.35,1.3,1.34,1.28,1.3,1.32
];
const inset9dR = [
  1.12,1.08,1.05,1.04,1.08,1.02,1,1.06,1.04,1.08,
  1.08,1.12,1.2,1.3,1.5,1.9,2.3,1.95,1.65,1.52,
  1.45,1.42,1.5,1.62,1.9,2.35,3,4.1,5.5,7.7,
  10.4,12.8,64,34,64,10.4,8.4,6.8,5.5,4.2,
  3,2.35,1.9,1.62,1.42,1.26,1.16,1.08,1.05,1.02,
  1,0.98,1.02,0.96,0.98,1
];
const inset6mR = [
  1.23,1.15,1.1,1.08,1.12,1.06,1.04,1.1,1.08,1.14,
  1.12,1.18,1.25,1.34,1.55,1.95,2.33,2,1.72,1.6,
  1.55,1.52,1.6,1.71,2,2.45,3.1,4.2,5.6,7.8,
  10.5,13,65,35,65,10.5,8.5,6.9,5.6,4.29,
  3.1,2.45,1.98,1.72,1.5,1.34,1.25,1.15,1.12,1.1,
  1.08,1.05,1.1,1.02,1.04,1.06
];
const lu2o3Peaks = [29.8, 34.4, 49.6];

// tick values / labels
const xMajor = [10, 20, 30, 40, 50, 60, 70, 80, 90];
const xMinor = [12,14,16,18,22,24,26,28,32,34,36,38,42,44,46,48,52,54,56,58,62,64,66,68,72,74,76,78,82,84,86,88];
const yMajor = [0, 100, 200];
const yMinorA = [-50, 50, 150];
const yMinorB = [50, 150];
const yTickText = ['0', '1×10^5', '2×10^5'];
const insetMajorL = [26, 28, 30, 32, 34];
const insetMinorL = [25.5,26.5,27,27.5,28.5,29,29.5,30.5,31,31.5,32.5,33,33.5,34.5,35,35.5];
const insetMajorR = [50, 52, 54];
const insetMinorR = [48,48.5,49,49.5,50.5,51,51.5,52.5,53,53.5];
const insetYMajor = [0.5,1.5,2.5,3.5,4.5,5.5,6.5,7.5,8.5,9.5];
const insetYMinor = [1,2,3,4,5,6,7,8,9];

// ---------- drawing ----------
const svgWidth = 2379, svgHeight = 3090;
const RED = '#ff0000', PURPLE = '#8000ff';
const lineColors = ['#000000', '#00ffff', '#00ff00', '#ff8000', '#ff0000'];

const svg = d3.select('svg').attr('width', svgWidth).attr('height', svgHeight);
svg.append('rect').attr('width', svgWidth).attr('height', svgHeight).attr('fill', '#fff');

function richText(parent, x, y, parts, size, color, anchor) {
  const t = parent.append('text').attr('x', x).attr('y', y)
    .attr('font-size', size).attr('fill', color).attr('text-anchor', anchor || 'start');
  let shift = 0;
  parts.forEach(p => {
    const s = p.sub ? 0.28 * size : (p.sup ? -0.42 * size : 0);
    t.append('tspan').attr('dy', s - shift)
      .attr('font-size', (p.sub || p.sup) ? size * 0.66 : size)
      .attr('font-style', p.italic ? 'italic' : null)
      .text(p.t);
    shift = s;
  });
  return t;
}
function tickParts(s) {
  const [base, sup] = s.split('^');
  return sup ? [{t: base}, {t: sup, sup: true}] : [{t: base}];
}
function ticks(parent, axis, transform, values, len, color, width) {
  const g = parent.append('g').attr('transform', transform)
    .call(axis.tickValues(values).tickSize(-len).tickSizeOuter(0).tickFormat(''));
  g.select('.domain').remove();
  g.selectAll('text').remove();
  g.selectAll('line').attr('stroke', color).attr('stroke-width', width);
}
function xLabels(parent, scale, y, values, size, pad) {
  const g = parent.append('g').attr('transform', `translate(0,${y})`)
    .call(d3.axisBottom(scale).tickValues(values).tickSize(0).tickPadding(pad).tickFormat(d3.format('d')));
  g.select('.domain').remove();
  g.attr('font-size', size).attr('font-family', '"Liberation Sans", Arial, sans-serif');
  g.selectAll('text').attr('fill', '#000');
}
function star(parent, cx, cy, r, w) {
  const p = d3.path();
  for (let k = 0; k < 5; k++) {
    const a = -Math.PI / 2 + k * 2 * Math.PI / 5;
    p.moveTo(cx, cy);
    p.lineTo(cx + r * Math.cos(a), cy + r * Math.sin(a));
  }
  parent.append('path').attr('d', p.toString()).attr('stroke', PURPLE)
    .attr('stroke-width', w).attr('fill', 'none');
}
function clip(id, x, y, w, h) {
  svg.append('clipPath').attr('id', id).append('rect')
    .attr('x', x).attr('y', y).attr('width', w).attr('height', h);
}
const title2theta = [{t: '2θ', italic: true}, {t: ' (°)'}];

// ===== panel a =====
const L = 264, R = 2132;
const aTop = 28, aBottom = 1350;
const xA = d3.scaleLinear().domain([10, 90]).range([L, R]);
const yA = d3.scaleLinear().domain([-65, 220]).range([aBottom, aTop]);
clip('clipA', L, aTop, R - L, aBottom - aTop);
const plotA = svg.append('g').attr('clip-path', 'url(#clipA)');

plotA.selectAll('circle.obs')
  .data(thetaA.map((t, i) => [t, obsA[i]]))
  .enter().append('circle')
  .attr('class', 'obs')
  .attr('cx', d => xA(d[0]))
  .attr('cy', d => yA(d[1]))
  .attr('r', 9)
  .attr('fill', 'none').attr('stroke', RED).attr('stroke-width', 2.2);

plotA.append('path')
  .datum(thetaA.map((t, i) => [t, calcA[i]]))
  .attr('d', d3.line().x(d => xA(d[0])).y(d => yA(d[1])))
  .attr('fill', 'none').attr('stroke', '#000').attr('stroke-width', 4).attr('stroke-linejoin', 'round');

plotA.append('path')
  .datum(thetaDiff.map((t, i) => [t, diffA[i]]))
  .attr('d', d3.line().x(d => xA(d[0])).y(d => yA(d[1])))
  .attr('fill', 'none').attr('stroke', '#0000ff').attr('stroke-width', 3);

plotA.selectAll('line.luh3').data(braggLuH3).enter().append('line')
  .attr('x1', d => xA(d)).attr('x2', d => xA(d))
  .attr('y1', yA(-17)).attr('y2', yA(-25.2))
  .attr('stroke', '#008000').attr('stroke-width', 3);
plotA.selectAll('line.lu2o3').data(braggLu2O3).enter().append('line')
  .attr('x1', d => xA(d)).attr('x2', d => xA(d))
  .attr('y1', yA(-29.3)).attr('y2', yA(-37.5))
  .attr('stroke', PURPLE).attr('stroke-width', 3);

// axes a
ticks(svg, d3.axisBottom(xA), `translate(0,${aBottom})`, xMajor, 24, '#000', 4);
ticks(svg, d3.axisBottom(xA), `translate(0,${aBottom})`, xMinor, 12, '#000', 4);
ticks(svg, d3.axisTop(xA), `translate(0,${aTop})`, xMajor, 24, '#000', 4);
ticks(svg, d3.axisTop(xA), `translate(0,${aTop})`, xMinor, 12, '#000', 4);
ticks(svg, d3.axisLeft(yA), `translate(${L},0)`, yMajor, 24, '#000', 4);
ticks(svg, d3.axisLeft(yA), `translate(${L},0)`, yMinorA, 12, '#000', 4);
ticks(svg, d3.axisRight(yA), `translate(${R},0)`, yMajor, 24, '#000', 4);
ticks(svg, d3.axisRight(yA), `translate(${R},0)`, yMinorA, 12, '#000', 4);
svg.append('rect').attr('x', L).attr('y', aTop).attr('width', R - L).attr('height', aBottom - aTop)
  .attr('fill', 'none').attr('stroke', '#000').attr('stroke-width', 4);
xLabels(svg, xA, aBottom, xMajor, 64, 35);
yMajor.forEach((v, i) => richText(svg, 236, yA(v) + 13, tickParts(yTickText[i]), 38, '#000', 'end'));
richText(svg, 1197, 1500, title2theta, 70, '#000', 'middle');
svg.append('text').attr('transform', 'translate(91,691) rotate(-90)')
  .attr('text-anchor', 'middle').attr('font-size', 76).text('Intensity (a.u.)');
svg.append('text').attr('x', 22).attr('y', 112).attr('font-size', 95).text('a)');

// legend a
richText(svg, 1283, 141, [{t: 'LuH'}, {t: '3', sub: true}, {t: ' (protected from air)'}], 73, '#000');
svg.append('text').attr('x', 1512).attr('y', 234).attr('font-size', 62).text('λ = 1.5406 Å');
svg.append('circle').attr('cx', 1442).attr('cy', 296).attr('r', 8)
  .attr('fill', 'none').attr('stroke', RED).attr('stroke-width', 1.6);
svg.append('text').attr('x', 1516).attr('y', 313).attr('font-size', 54).attr('fill', RED).text('I obs.');
svg.append('line').attr('x1', 1386).attr('x2', 1499).attr('y1', 365).attr('y2', 365)
  .attr('stroke', '#000').attr('stroke-width', 3);
svg.append('text').attr('x', 1516).attr('y', 382).attr('font-size', 54).text('I calc.');
svg.append('line').attr('x1', 1386).attr('x2', 1499).attr('y1', 434).attr('y2', 434)
  .attr('stroke', '#0000ff').attr('stroke-width', 3);
svg.append('text').attr('x', 1516).attr('y', 452).attr('font-size', 54).attr('fill', '#0000ff').text('I obs. - I calc.');
svg.append('line').attr('x1', 1443).attr('x2', 1443).attr('y1', 483).attr('y2', 521)
  .attr('stroke', '#008000').attr('stroke-width', 3);
richText(svg, 1516, 521, [{t: 'Bragg positions tr-LuH'}, {t: '3', sub: true}], 54, '#008000');
svg.append('line').attr('x1', 1443).attr('x2', 1443).attr('y1', 560).attr('y2', 598)
  .attr('stroke', PURPLE).attr('stroke-width', 3);
richText(svg, 1516, 596, [{t: 'Bragg positions Lu'}, {t: '2', sub: true}, {t: 'O'}, {t: '3', sub: true}], 54, PURPLE);

// ===== panel b =====
const bTop = 1547, bBottom = 2924;
const xB = d3.scaleLinear().domain([10, 90]).range([L, R]);
const yBL = d3.scaleLinear().domain([0, 220]).range([bBottom, bTop]);
const yBR = d3.scaleLinear().domain([-9.9, 210.1]).range([bBottom, bTop]);
clip('clipB', L, bTop, R - L, bBottom - bTop);
const plotB = svg.append('g').attr('clip-path', 'url(#clipB)');
const seriesB = [protectedB, air3hB, air20hB, air9dB, air6mB];
seriesB.forEach((vals, k) => {
  const y = k === 0 ? yBL : yBR;
  plotB.append('path')
    .datum(thetaB.map((t, i) => [t, vals[i]]))
    .attr('d', d3.line().x(d => xB(d[0])).y(d => y(d[1])))
    .attr('fill', 'none').attr('stroke', lineColors[k])
    .attr('stroke-width', k === 0 ? 3.5 : 4.5).attr('stroke-linejoin', 'round');
});
const starHeightB = [30.8, 21.4, 20.9];
lu2o3Peaks.forEach((p, i) => star(svg, xB(p), yBL(starHeightB[i]), 12, 4.5));

ticks(svg, d3.axisBottom(xB), `translate(0,${bBottom})`, xMajor, 24, '#000', 4);
ticks(svg, d3.axisBottom(xB), `translate(0,${bBottom})`, xMinor, 12, '#000', 4);
ticks(svg, d3.axisTop(xB), `translate(0,${bTop})`, xMajor, 24, '#000', 4);
ticks(svg, d3.axisTop(xB), `translate(0,${bTop})`, xMinor, 12, '#000', 4);
ticks(svg, d3.axisLeft(yBL), `translate(${L},0)`, yMajor, 24, '#000', 4);
ticks(svg, d3.axisLeft(yBL), `translate(${L},0)`, yMinorB, 12, '#000', 4);
ticks(svg, d3.axisRight(yBR), `translate(${R},0)`, yMajor, 24, RED, 4);
ticks(svg, d3.axisRight(yBR), `translate(${R},0)`, yMinorB, 12, RED, 4);
svg.append('path').attr('d', `M${R},${bTop}H${L}V${bBottom}H${R}`)
  .attr('fill', 'none').attr('stroke', '#000').attr('stroke-width', 4);
svg.append('line').attr('x1', R).attr('x2', R).attr('y1', bTop - 2).attr('y2', bBottom + 2)
  .attr('stroke', RED).attr('stroke-width', 4);
xLabels(svg, xB, bBottom, xMajor, 64, 24);
yMajor.forEach((v, i) => richText(svg, 236, Math.min(yBL(v) + 13, bBottom + 10), tickParts(yTickText[i]), 38, '#000', 'end'));
yMajor.forEach((v, i) => richText(svg, 2155, yBR(v) + 13, tickParts(yTickText[i]), 38, RED, 'start'));
richText(svg, 1197, 3065, title2theta, 70, '#000', 'middle');
svg.append('text').attr('transform', 'translate(113,2229) rotate(-90)')
  .attr('text-anchor', 'middle').attr('font-size', 74).text('Intensity (a.u.)');
svg.append('text').attr('transform', 'translate(2308,2232) rotate(-90)')
  .attr('text-anchor', 'middle').attr('font-size', 58).attr('fill', RED).text('Intensity (a.u.)');
svg.append('text').attr('x', 20).attr('y', 1601).attr('font-size', 95).text('b)');

// legend b
richText(svg, 405, 1662, [{t: 'LuH'}, {t: '3', sub: true}], 82, '#000');
svg.append('text').attr('x', 321).attr('y', 1767).attr('font-size', 68).text('λ = 1.5406Å');
star(svg, 373, 1837, 24, 9);
richText(svg, 413, 1851, [{t: 'Lu'}, {t: '2', sub: true}, {t: 'O'}, {t: '3', sub: true}], 68, PURPLE);
const legendRowsY = [1951, 2008, 2065, 2122, 2179];
seriesNames.forEach((name, k) => {
  svg.append('line').attr('x1', 292).attr('x2', k === 0 ? 389 : 396)
    .attr('y1', legendRowsY[k]).attr('y2', legendRowsY[k])
    .attr('stroke', lineColors[k]).attr('stroke-width', 4);
  svg.append('text').attr('x', k === 0 ? 402 : 409).attr('y', legendRowsY[k] + 14)
    .attr('font-size', 42).text(name);
});

// ===== inset =====
const iL = 887, iR = 2054, iTop = 1589, iBottom = 2453, gapL = 1602, gapR = 1618.5;
const xIL = d3.scaleLinear().domain([25, 36]).range([iL, gapL]);
const xIR = d3.scaleLinear().domain([47.95, 54.05]).range([gapR, iR]);
const yI = d3.scaleLinear().domain([0, 10]).range([iBottom, iTop]);
svg.append('rect').attr('x', iL).attr('y', iTop).attr('width', iR - iL).attr('height', iBottom - iTop).attr('fill', '#fff');
clip('clipIL', iL, iTop, gapL - iL, iBottom - iTop);
clip('clipIR', gapR, iTop, iR - gapR, iBottom - iTop);
const insetL = [insetProtL, inset3hL, inset20hL, inset9dL, inset6mL];
const insetR = [insetProtR, inset3hR, inset20hR, inset9dR, inset6mR];
[[insetL, thetaInL, xIL, 'clipIL'], [insetR, thetaInR, xIR, 'clipIR']].forEach(([set, th, xs, cid]) => {
  const g = svg.append('g').attr('clip-path', `url(#${cid})`);
  set.forEach((vals, k) => {
    g.append('path')
      .datum(th.map((t, i) => [t, vals[i]]))
      .attr('d', d3.line().x(d => xs(d[0])).y(d => yI(d[1])))
      .attr('fill', 'none').attr('stroke', lineColors[k]).attr('stroke-width', 2.6)
      .attr('stroke-linejoin', 'round');
  });
});
const starHeightI = [7.18, 3.33, 3.26];
star(svg, xIL(lu2o3Peaks[0]), yI(starHeightI[0]), 16, 6);
star(svg, xIL(lu2o3Peaks[1]), yI(starHeightI[1]), 16, 6);
star(svg, xIR(lu2o3Peaks[2]), yI(starHeightI[2]), 16, 6);

[[xIL, insetMajorL, insetMinorL], [xIR, insetMajorR, insetMinorR]].forEach(([xs, maj, min]) => {
  ticks(svg, d3.axisBottom(xs), `translate(0,${iBottom})`, maj, 13, '#000', 3.5);
  ticks(svg, d3.axisBottom(xs), `translate(0,${iBottom})`, min, 6, '#000', 3.5);
  ticks(svg, d3.axisTop(xs), `translate(0,${iTop})`, maj, 13, '#000', 3.5);
  ticks(svg, d3.axisTop(xs), `translate(0,${iTop})`, min, 6, '#000', 3.5);
  xLabels(svg, xs, iBottom, maj, 64, 24);
});
ticks(svg, d3.axisLeft(yI), `translate(${iL},0)`, insetYMajor, 15, '#000', 3.5);
ticks(svg, d3.axisLeft(yI), `translate(${iL},0)`, insetYMinor, 7, '#000', 3.5);
ticks(svg, d3.axisRight(yI), `translate(${iR},0)`, insetYMajor, 15, RED, 3.5);
ticks(svg, d3.axisRight(yI), `translate(${iR},0)`, insetYMinor, 7, RED, 3.5);
const frameI = svg.append('g').attr('stroke', '#000').attr('stroke-width', 3.5).attr('fill', 'none');
frameI.append('path').attr('d', `M${gapL},${iTop}H${iL}V${iBottom}H${gapL}`);
frameI.append('path').attr('d', `M${gapR},${iTop}H${iR}M${gapR},${iBottom}H${iR}`);
[iTop, iBottom].forEach(y => {
  frameI.append('path').attr('d', `M1593,${y + 14}L1610,${y - 15}M1614,${y + 14}L1630,${y - 15}`);
});
svg.append('line').attr('x1', iR).attr('x2', iR).attr('y1', iTop - 1.75).attr('y2', iBottom + 1.75)
  .attr('stroke', RED).attr('stroke-width', 3.5);
richText(svg, 1615, 2583, title2theta, 70, '#000', 'middle');
svg.append('text').attr('transform', 'translate(864,2017) rotate(-90)')
  .attr('text-anchor', 'middle').attr('font-size', 37).text('Intensity (a.u.)');
svg.append('text').attr('transform', 'translate(2098,2018) rotate(-90)')
  .attr('text-anchor', 'middle').attr('font-size', 37).attr('fill', RED).text('Intensity (a.u.)');
</script>
</body>
</html>
